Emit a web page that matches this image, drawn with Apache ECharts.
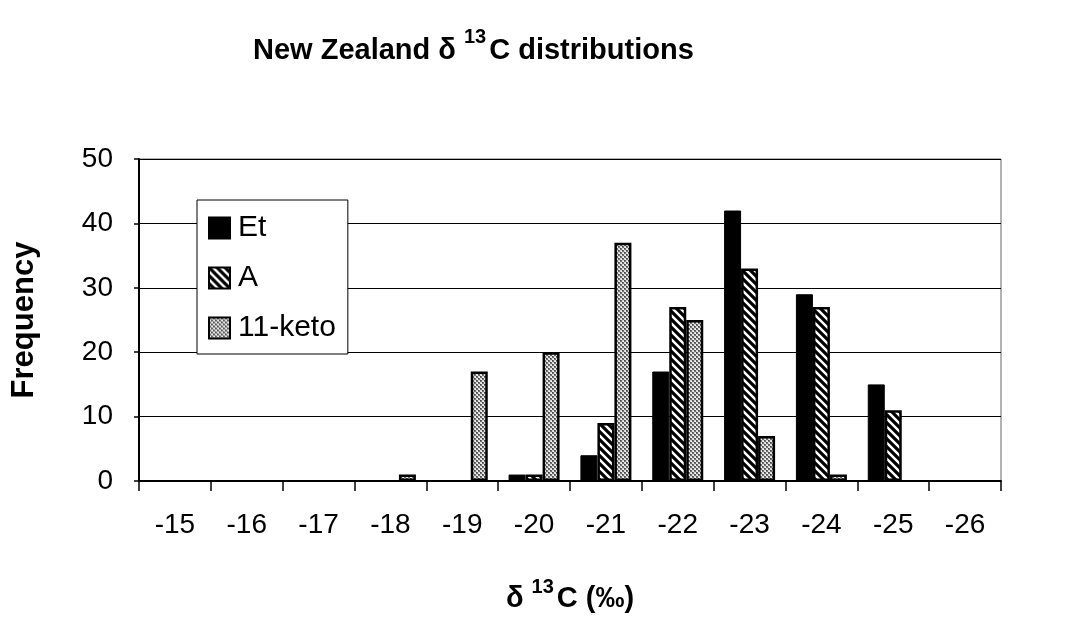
<!DOCTYPE html>
<html><head><meta charset="utf-8">
<script src="https://cdn.jsdelivr.net/npm/echarts@6/dist/echarts.min.js"></script>
<style>html,body{margin:0;padding:0;background:#fff}#c{width:1065px;height:636px}</style>
</head><body><div id="c"></div>
<script>
const categories = ['-15','-16','-17','-18','-19','-20','-21','-22','-23','-24','-25','-26'];
const seriesNames = ['Et','A','11-keto'];
const etValues   = [0,0,0,0,0,1,4,17,42,29,15,0];
const aValues    = [0,0,0,0,0,1,9,27,33,27,11,0];
const ketoValues = [0,0,0,1,17,20,37,25,7,1,0,0];
const yMin = 0, yMax = 50, yStep = 10;

const FONT = '"Liberation Sans", Arial, sans-serif';

// zero-frequency bins draw no bar (as in the original)
const barData = arr => arr.map(v => (v === 0 ? null : v));

function stripePattern(){
  const c = document.createElement('canvas'); c.width = 8; c.height = 8;
  const g = c.getContext('2d');
  g.fillStyle = '#fff'; g.fillRect(0,0,8,8);
  g.strokeStyle = '#000'; g.lineWidth = 3.2;
  g.beginPath();
  for (let o = -16; o <= 16; o += 8){ g.moveTo(o-2, -2); g.lineTo(o+10, 10); }
  g.stroke();
  return c;
}
function dotPattern(){
  const c = document.createElement('canvas'); c.width = 4; c.height = 4;
  const g = c.getContext('2d');
  g.fillStyle = '#dcdcdc'; g.fillRect(0,0,4,4);
  g.fillStyle = '#6e6e6e';
  g.fillRect(0,0,2,2); g.fillRect(2,2,2,2);
  g.fillStyle = '#444';
  g.fillRect(0,0,1,1); g.fillRect(2,2,1,1);
  g.fillStyle = '#f6f6f6';
  g.fillRect(3,1,1,1); g.fillRect(1,3,1,1);
  return c;
}

const chart = echarts.init(document.getElementById('c'), null, {renderer:'canvas'});
chart.setOption({
  backgroundColor: '#fff',
  animation: false,
  title: {
    left: 248, top: 22,
    text: '{a|New Zealand δ }{s|13}{a|C distributions}',
    textStyle: {
      rich: {
        a: {fontFamily: FONT, fontSize: 29, fontWeight: 'bold', color: '#000', lineHeight: 38, verticalAlign: 'bottom'},
        s: {fontFamily: FONT, fontSize: 20, fontWeight: 'bold', color: '#000', lineHeight: 20, verticalAlign: 'top', padding: [0, 3, 0, 0]}
      }
    }
  },
  legend: {
    orient: 'vertical',
    left: 197, top: 200,
    padding: [13, 12, 11, 11],
    itemWidth: 21, itemHeight: 21, itemGap: 20,
    borderColor: '#000', borderWidth: 1,
    backgroundColor: '#fff',
    icon: 'rect',
    textStyle: {fontFamily: FONT, fontSize: 30, color: '#000', padding: [0,0,0,3]},
    data: seriesNames
  },
  grid: {left: 139, right: 64, top: 159, bottom: 155, show: true, borderColor: '#666', borderWidth: 1},
  xAxis: {
    type: 'category',
    data: categories,
    boundaryGap: true,
    axisLine: {lineStyle: {color: '#000', width: 2}},
    axisTick: {show: true, length: 10, lineStyle: {color: '#000', width: 1.5}},
    axisLabel: {fontFamily: FONT, fontSize: 28, color: '#000', margin: 30},
    name: '{s|δ }{t|13}{s|C (‰)}',
    nameLocation: 'middle',
    nameGap: 96,
    nameTextStyle: {
      rich: {
        s: {fontFamily: FONT, fontSize: 29, fontWeight: 'bold', color: '#000', lineHeight: 36, verticalAlign: 'bottom'},
        t: {fontFamily: FONT, fontSize: 20, fontWeight: 'bold', color: '#000', lineHeight: 20, verticalAlign: 'top', padding: [0, 3, 0, 0]}
      }
    }
  },
  yAxis: {
    type: 'value',
    min: yMin, max: yMax, interval: yStep,
    axisLine: {show: true, lineStyle: {color: '#000', width: 2}},
    axisTick: {show: true, length: 5, lineStyle: {color: '#000', width: 1.5}},
    axisLabel: {fontFamily: FONT, fontSize: 28, color: '#000', margin: 26},
    splitLine: {show: true, lineStyle: {color: '#000', width: 1}},
    name: 'Frequency',
    nameLocation: 'middle',
    nameGap: 99,
    nameRotate: 90,
    nameTextStyle: {fontFamily: FONT, fontSize: 31, fontWeight: 'bold', color: '#000'}
  },
  series: [
    {name: seriesNames[0], type: 'bar', data: barData(etValues), barWidth: 17, barGap: '0%',
     itemStyle: {color: '#000', borderColor: '#000', borderWidth: 1}},
    {name: seriesNames[1], type: 'bar', data: barData(aValues), barWidth: 17, barGap: '0%',
     itemStyle: {color: {image: stripePattern(), repeat: 'repeat'}, borderColor: '#000', borderWidth: 2.5}},
    {name: seriesNames[2], type: 'bar', data: barData(ketoValues), barWidth: 17, barGap: '0%',
     itemStyle: {color: {image: dotPattern(), repeat: 'repeat'}, borderColor: '#000', borderWidth: 2.5}}
  ]
});
</script>
</body></html>
